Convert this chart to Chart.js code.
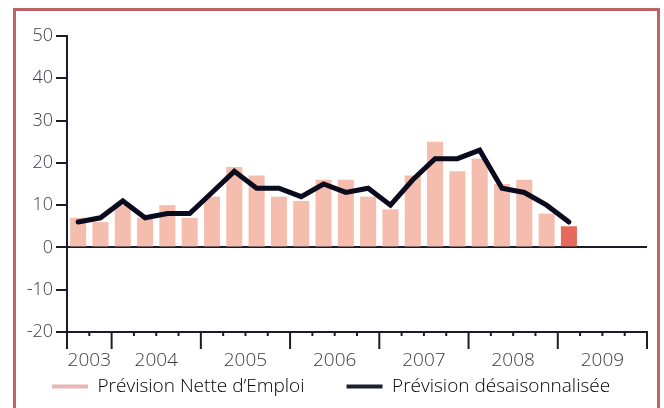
<!DOCTYPE html>
<html lang="fr">
<head>
  <meta charset="UTF-8">
  <title>Prévision Nette d'Emploi</title>
  <script src="https://cdn.jsdelivr.net/npm/chart.js"></script>
  <style>
    body { margin: 0; background: #fff; }
    #wrap { position: relative; width: 664px; height: 408px; overflow: hidden; }
    #frame {
      position: absolute; left: 13px; top: 8px; width: 647px; height: 460px;
      border: 3px solid #bd6266; box-sizing: border-box; pointer-events: none;
    }
  </style>
</head>
<body>
  <div id="wrap">
    <canvas id="chart" width="664" height="408"></canvas>
    <div id="frame"></div>
  </div>
  <script>
    const quarters = [
      'T3 2003', 'T4 2003',
      'T1 2004', 'T2 2004', 'T3 2004', 'T4 2004',
      'T1 2005', 'T2 2005', 'T3 2005', 'T4 2005',
      'T1 2006', 'T2 2006', 'T3 2006', 'T4 2006',
      'T1 2007', 'T2 2007', 'T3 2007', 'T4 2007',
      'T1 2008', 'T2 2008', 'T3 2008', 'T4 2008',
      'T1 2009', 'T2 2009', 'T3 2009', 'T4 2009'
    ]
    const years = ['2003', '2004', '2005', '2006', '2007', '2008', '2009']
    const netValues = [7, 6, 10, 7, 10, 7, 12, 19, 17, 12, 11, 16, 16, 12, 9, 17, 25, 18, 21, 15, 16, 8, 5]
    const adjustedValues = [6, 7, 11, 7, 8, 8, 13, 18, 14, 14, 12, 15, 13, 14, 10, 16, 21, 21, 23, 14, 13, 10, 6]
    const yTicks = [-20, -10, 0, 10, 20, 30, 40, 50]

    const axisColor = '#1b1b2b'
    const textColor = '#3a3a46'
    const barColor = '#f4bdae'
    const lastBarColor = '#e66a5b'
    const lineColor = '#0b0b1e'
    const fontFamily = '"Open Sans", "Liberation Sans", sans-serif'

    // quarter tick marks + year labels under the x axis
    const yearAxis = {
      id: 'yearAxis',
      afterDraw(chart) {
        const { ctx, chartArea, scales: { x } } = chart
        const half = (x.getPixelForValue(1) - x.getPixelForValue(0)) / 2
        const y0 = chartArea.bottom
        ctx.save()
        ctx.strokeStyle = axisColor
        ctx.lineWidth = 2
        quarters.forEach((q, i) => {
          const left = x.getPixelForValue(i) - half
          const yearStart = i === 0 || q.slice(-4) !== quarters[i - 1].slice(-4)
          ctx.beginPath()
          ctx.moveTo(left, y0)
          ctx.lineTo(left, y0 + (yearStart ? 17 : 4))
          ctx.stroke()
        })
        const rightEnd = x.getPixelForValue(quarters.length - 1) + half
        ctx.beginPath()
        ctx.moveTo(rightEnd, y0)
        ctx.lineTo(rightEnd, y0 + 17)
        ctx.stroke()

        ctx.fillStyle = textColor
        ctx.font = `300 19px ${fontFamily}`
        ctx.textAlign = 'center'
        ctx.textBaseline = 'alphabetic'
        years.forEach(year => {
          const idx = quarters.map((q, i) => q.endsWith(year) ? i : -1).filter(i => i >= 0)
          const cx = (x.getPixelForValue(idx[0]) + x.getPixelForValue(idx[idx.length - 1])) / 2
          ctx.fillText(year, cx, y0 + 34)
        })
        ctx.restore()
      }
    }

    new Chart(document.getElementById('chart'), {
      data: {
        labels: quarters,
        datasets: [
          {
            type: 'line',
            label: 'Prévision désaisonnalisée',
            data: adjustedValues,
            borderColor: lineColor,
            borderWidth: 5,
            pointRadius: 0,
            tension: 0,
            borderCapStyle: 'round',
            borderJoinStyle: 'miter',
            order: 1
          },
          {
            type: 'bar',
            label: 'Prévision Nette d’Emploi',
            data: netValues,
            backgroundColor: (c) => c.dataIndex === netValues.length - 1 ? lastBarColor : barColor,
            categoryPercentage: 1,
            barPercentage: 0.72,
            order: 2
          }
        ]
      },
      options: {
        responsive: false,
        animation: false,
        layout: { padding: { top: 36, right: 0, bottom: 2, left: 10 } },
        plugins: {
          tooltip: { enabled: false },
          legend: {
            position: 'bottom',
            align: 'start',
            labels: {
              boxWidth: 36,
              boxHeight: 4,
              padding: 42,
              color: textColor,
              font: { family: fontFamily, size: 19, weight: 300 },
              generateLabels: () => [
                { text: 'Prévision Nette d’Emploi', fillStyle: '#e8b7b5', strokeStyle: '#e8b7b5', lineWidth: 0 },
                { text: 'Prévision désaisonnalisée', fillStyle: '#1c1f2e', strokeStyle: '#1c1f2e', lineWidth: 0 }
              ]
            }
          }
        },
        scales: {
          x: {
            type: 'category',
            offset: true,
            grid: { display: false },
            border: { display: true, color: axisColor, width: 2 },
            ticks: { display: false },
            afterFit: (scale) => { scale.height = 3 }
          },
          y: {
            min: -20,
            max: 50,
            afterBuildTicks: (scale) => { scale.ticks = yTicks.map(v => ({ value: v })) },
            grid: {
              drawOnChartArea: true,
              color: (c) => c.tick && c.tick.value === 0 ? axisColor : 'rgba(0,0,0,0)',
              lineWidth: 2,
              tickColor: axisColor,
              tickWidth: 2,
              tickLength: 11
            },
            border: { display: true, color: axisColor, width: 2 },
            ticks: {
              padding: 3,
              color: textColor,
              font: { family: fontFamily, size: 18, weight: 300 }
            },
            afterFit: (scale) => { scale.width = 57 }
          },
          // empty right axis, only keeps the plot clear of the right frame
          yRight: {
            type: 'linear',
            position: 'right',
            grid: { display: false },
            border: { display: false },
            ticks: { display: false },
            afterFit: (scale) => { scale.width = 17 }
          }
        }
      },
      plugins: [yearAxis]
    })
  </script>
</body>
</html>
